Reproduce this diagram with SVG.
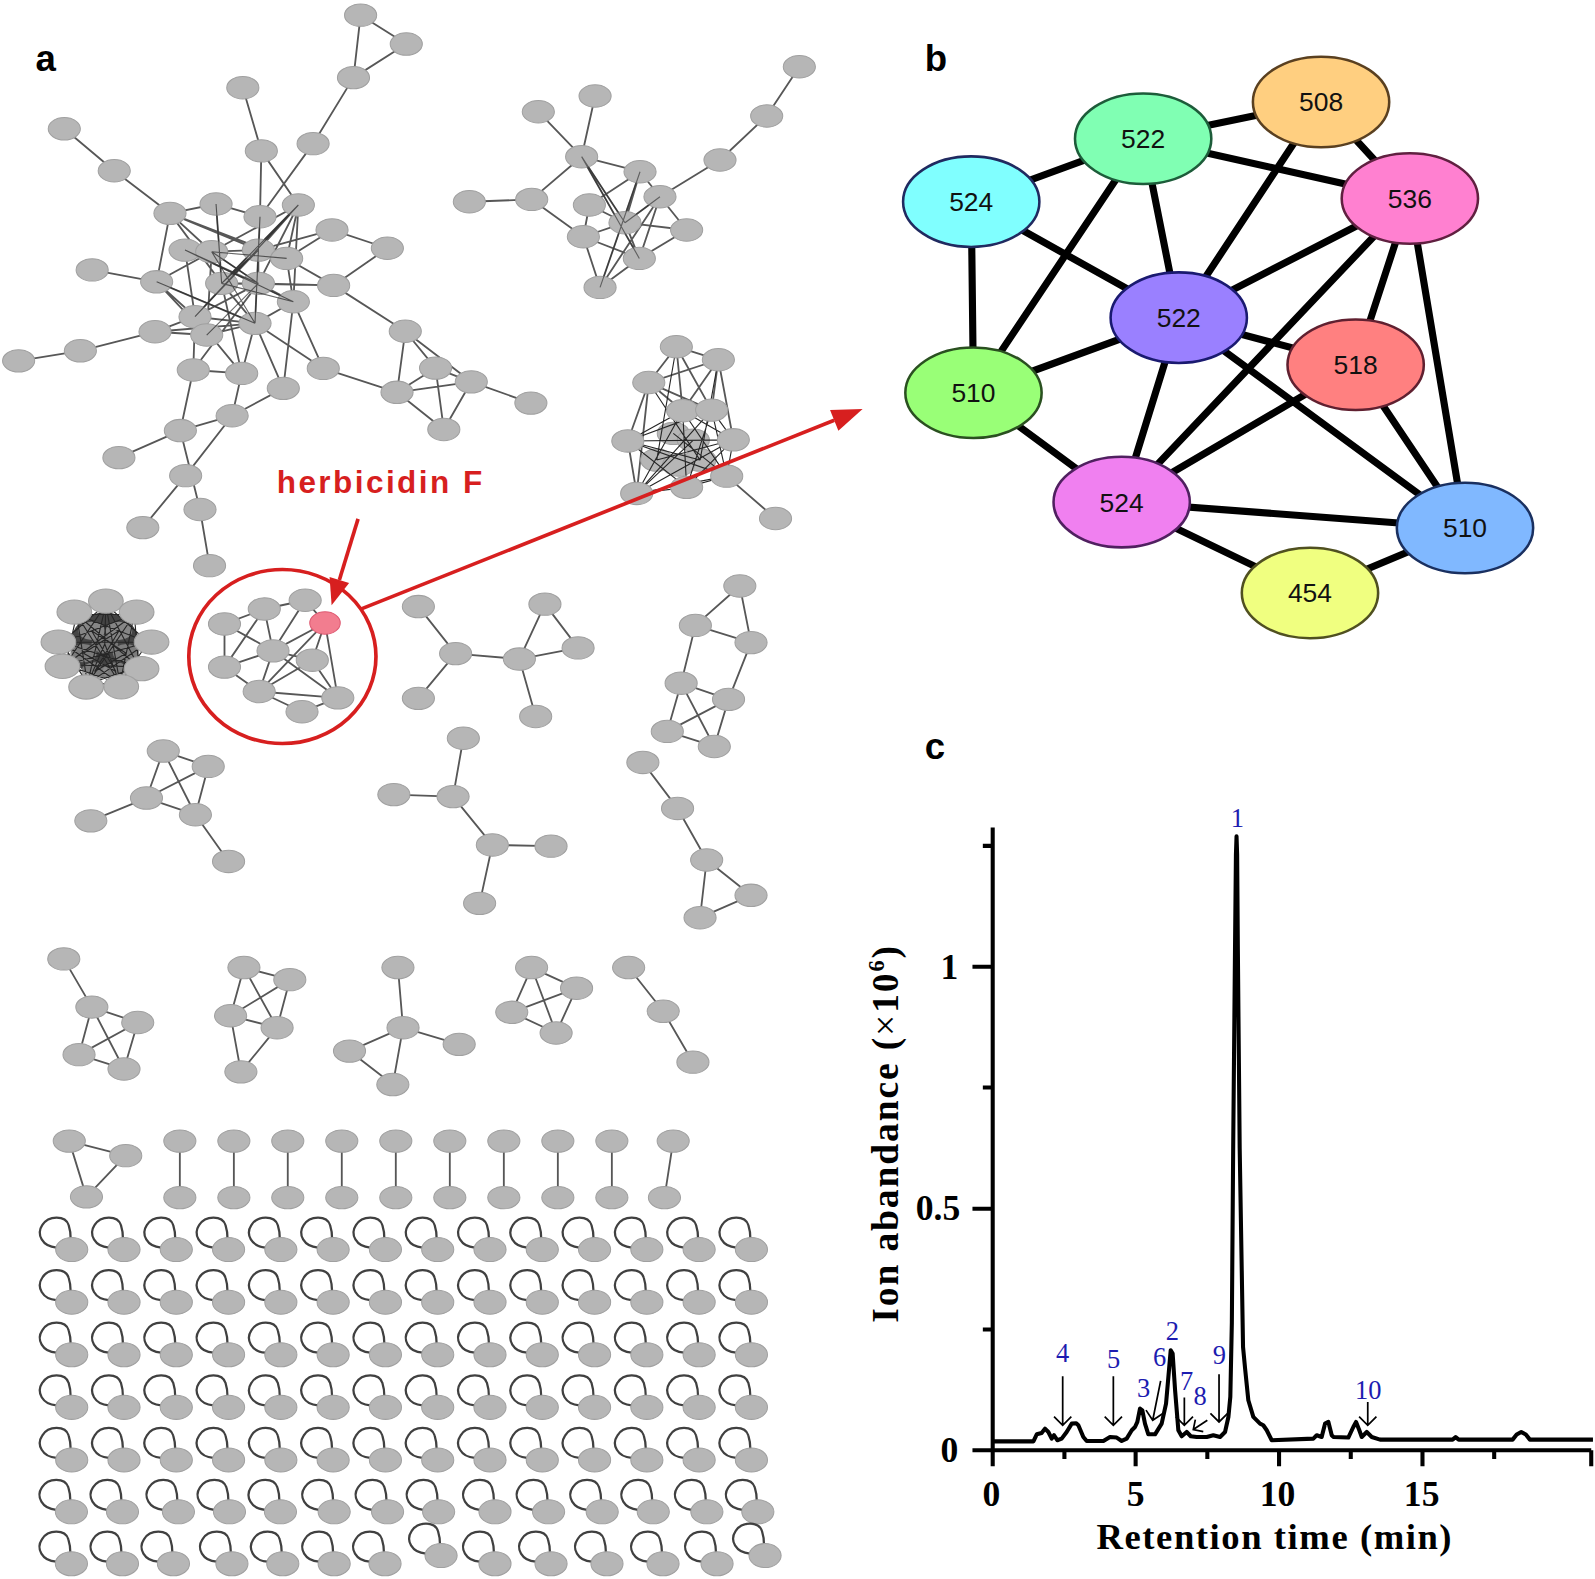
<svg xmlns="http://www.w3.org/2000/svg" xmlns:xlink="http://www.w3.org/1999/xlink" width="1595" height="1579" viewBox="0 0 1595 1579">
<style>
.e{fill:none;stroke:#575757;stroke-width:1.8}
.hm{fill:none;stroke:#262626;stroke-width:1.1}
.pl{font-family:"Liberation Sans",Arial,sans-serif;font-weight:bold;font-size:36px;fill:#000}
.be{fill:none;stroke:#000;stroke-width:7}
.bn ellipse{stroke-width:2.5}
.bn text{font-family:"Liberation Sans",Arial,sans-serif;font-size:26px;fill:#111;text-anchor:middle}
.red{fill:none;stroke:#d71f1f;stroke-width:3.6}
.ax{fill:none;stroke:#000;stroke-width:4}
.tk{font-family:"Liberation Serif","Times New Roman",serif;font-weight:bold;font-size:35px;fill:#000}
.pk{font-family:"Liberation Serif","Times New Roman",serif;font-size:26px;fill:#1c1cb0;text-anchor:middle}
.ar{fill:none;stroke:#000;stroke-width:1.7}
</style>
<defs>
<ellipse id="nd" rx="15.8" ry="11" fill="#b6b6b6" stroke="#a0a0a0" stroke-width="1"/>
<g id="lp"><path d="M-15,-2 C-29,-3 -35,-15 -29,-24 C-23,-34 -6,-34 -3,-24 C-1,-18 -1,-14 -1,-10" fill="none" stroke="#404040" stroke-width="2.2"/><ellipse rx="15.8" ry="11.8" fill="#b6b6b6" stroke="#a0a0a0" stroke-width="1"/></g>
</defs>
<rect width="1595" height="1579" fill="#fff"/>
<g transform="scale(1.01722,1.0174)">

<!-- panel labels -->
<text class="pl" x="35" y="70">a</text>
<text class="pl" x="909" y="70">b</text>
<text class="pl" x="909" y="746">c</text>

<!-- ============ PANEL A ============ -->
<g id="connectors-a">
<path class="e" d="M354.5,14.9 L399.4,43.3 M399.4,43.3 L347.5,76.3 M354.5,14.9 L347.5,76.3 M347.5,76.3 L307.8,141.2 M307.8,141.2 L255.6,213 M238.7,86.2 L256.9,148.3 M256.9,148.3 L255.6,213 M256.9,148.3 L293.3,201.5 M63.2,126.6 L112.3,167.8 M112.3,167.8 L167.1,209.7 M167.1,209.7 L212.4,200.5 M167.1,209.7 L154,277 M167.1,209.7 L208.1,247.4 M167.1,209.7 L217.9,278.5 M167.1,209.7 L254,245.8 M212.4,200.5 L217.9,278.5 M212.4,200.5 L255.6,213 M255.6,213 L250.7,317.8 M293.3,201.5 L208.1,247.4 M293.3,201.5 L254,245.8 M293.3,201.5 L217.9,278.5 M293.3,201.5 L281.8,254 M293.3,201.5 L191.7,311.3 M293.3,201.5 L288.4,296.6 M293.3,201.5 L254,278.5 M326.4,226 L380.8,244 M326.4,226 L281.8,254 M326.4,226 L254,245.8 M380.8,244 L328,280.5 M328,280.5 L398.4,325.6 M328,280.5 L281.8,254 M328,280.5 L254,278.5 M328,280.5 L217.9,278.5 M281.8,254 L288.4,296.6 M181.9,245.8 L208.1,247.4 M208.1,247.4 L254,245.8 M254,245.8 L281.8,254 M181.9,245.8 L191.7,311.3 M154,277 L90.6,265.3 M154,277 L208.1,247.4 M154,277 L191.7,311.3 M154,277 L250.7,317.8 M154,277 L203.2,329.3 M217.9,278.5 L254,278.5 M254,278.5 L288.4,296.6 M217.9,278.5 L250.7,317.8 M254,278.5 L191.7,311.3 M254,245.8 L217.9,278.5 M254,245.8 L254,278.5 M208.1,247.4 L254,278.5 M208.1,247.4 L203.2,329.3 M152.4,326.1 L79,344.8 M79,344.8 L18.3,354.7 M152.4,326.1 L191.7,311.3 M152.4,326.1 L203.2,329.3 M152.4,326.1 L250.7,317.8 M191.7,311.3 L250.7,317.8 M203.2,329.3 L250.7,317.8 M250.7,317.8 L288.4,296.6 M190,363.7 L191.7,311.3 M190,363.7 L237.6,367 M237.6,367 L250.7,317.8 M237.6,367 L191.7,311.3 M190,363.7 L254,278.5 M237.6,367 L217.9,278.5 M190,363.7 L177.3,423.2 M250.7,317.8 L278.5,381.7 M288.4,296.6 L278.5,381.7 M278.5,381.7 L228.2,408.6 M317.8,362.1 L390.3,385.6 M317.8,362.1 L288.4,296.6 M317.8,362.1 L250.7,317.8 M237.6,367 L228.2,408.6 M181.9,245.8 L288.4,296.6 M167.1,209.7 L281.8,254 M398.4,325.6 L428.2,361.8 M398.4,325.6 L463.3,375.3 M398.4,325.6 L390.3,385.6 M428.2,361.8 L463.3,375.3 M428.2,361.8 L390.3,385.6 M463.3,375.3 L390.3,385.6 M428.2,361.8 L436.3,422.1 M463.3,375.3 L436.3,422.1 M390.3,385.6 L436.3,422.1 M463.3,375.3 L521.9,396.2 M228.2,408.6 L177.3,423.2 M177.3,423.2 L116.9,449.8 M228.2,408.6 L182.5,467.5 M177.3,423.2 L196.6,500.8 M182.5,467.5 L140.4,518.6 M196.6,500.8 L206,556"/>
<path class="e" d="M785.8,65.6 L753.7,114 M753.7,114 L707.8,157.3 M707.8,157.3 L648.8,193.4 M585,94.4 L571.8,154 M529.2,109.8 L571.8,154 M571.8,154 L629.2,168.8 M571.8,154 L522.7,196 M522.7,196 L461.4,198.3 M522.7,196 L573.5,232.7 M571.8,154 L614.4,218.9 M571.8,154 L628.5,254 M629.2,168.8 L579.4,201.5 M629.2,168.8 L614.4,218.9 M629.2,168.8 L675,226.1 M629.2,168.8 L589.9,282.5 M648.8,193.4 L614.4,218.9 M648.8,193.4 L628.5,254 M648.8,193.4 L589.9,282.5 M579.4,201.5 L614.4,218.9 M579.4,201.5 L573.5,232.7 M614.4,218.9 L573.5,232.7 M614.4,218.9 L675,226.1 M614.4,218.9 L628.5,254 M573.5,232.7 L628.5,254 M573.5,232.7 L589.9,282.5 M628.5,254 L589.9,282.5 M675,226.1 L628.5,254"/>
<path class="e" d="M664.9,340.8 L706.2,353.6 M664.9,340.8 L637.8,376 M664.9,340.8 L671.1,403.7 M664.9,340.8 L699.6,403.1 M706.2,353.6 L637.8,376 M706.2,353.6 L671.1,403.7 M706.2,353.6 L699.6,403.1 M637.8,376 L671.1,403.7 M637.8,376 L699.6,403.1 M637.8,376 L617.2,433.4 M671.1,403.7 L699.6,403.1 M617.2,433.4 L625.9,485 M706.2,353.6 L720.9,432.3 M714.4,468 L762.4,509.6 M637.8,376 L625.9,485"/>
<path class="e" d="M259.8,598.6 L300,590 M259.8,598.6 L220.7,613.3 M259.8,598.6 L268.4,639.7 M259.8,598.6 L220.7,655.7 M300,590 L319.5,612.3 M300,590 L268.4,639.7 M220.7,613.3 L220.7,655.7 M220.7,613.3 L268.4,639.7 M319.5,612.3 L268.4,639.7 M319.5,612.3 L307,648.9 M319.5,612.3 L254.8,679.7 M319.5,612.3 L332.1,685.9 M268.4,639.7 L220.7,655.7 M268.4,639.7 L307,648.9 M268.4,639.7 L254.8,679.7 M307,648.9 L254.8,679.7 M307,648.9 L332.1,685.9 M220.7,655.7 L254.8,679.7 M254.8,679.7 L332.1,685.9 M254.8,679.7 L296.9,699.6 M332.1,685.9 L296.9,699.6 M268.4,639.7 L332.1,685.9"/>
<path class="e" d="M411.3,596.2 L447.9,642.4 M447.9,642.4 L411.3,686.4 M447.9,642.4 L510.6,647.8 M510.6,647.8 L535.7,593.8 M535.7,593.8 L568.3,636.8 M510.6,647.8 L568.3,636.8 M510.6,647.8 L526.6,704.2"/>
<path class="e" d="M727.3,576 L683.6,614.7 M727.3,576 L738.3,631.6 M683.6,614.7 L738.3,631.6 M683.6,614.7 L669.6,671.5 M738.3,631.6 L716.2,687.4 M669.6,671.5 L716.2,687.4 M669.6,671.5 L656,718.9 M669.6,671.5 L702.2,733.7 M716.2,687.4 L656,718.9 M716.2,687.4 L702.2,733.7 M656,718.9 L702.2,733.7"/>
<path class="e" d="M160.5,738.2 L204.7,753.3 M160.5,738.2 L144,784.4 M160.5,738.2 L192.1,800.8 M204.7,753.3 L144,784.4 M204.7,753.3 L192.1,800.8 M144,784.4 L192.1,800.8 M144,784.4 L89.3,806.8 M192.1,800.8 L224.7,846.7"/>
<path class="e" d="M455.5,725.6 L445.4,783 M445.4,783 L387.2,781 M445.4,783 L484,830.5 M484,830.5 L541.7,831.7 M484,830.5 L471.5,887.9"/>
<path class="e" d="M632,749.4 L666.1,794.6 M666.1,794.6 L694.7,845.3 M694.7,845.3 L738.3,880 M694.7,845.3 L688.2,902 M738.3,880 L688.2,902"/>
<path class="e" d="M62.7,942.5 L90.3,989.9 M90.3,989.9 L135.4,1005 M90.3,989.9 L77.7,1036.6 M90.3,989.9 L121.9,1050.7 M135.4,1005 L77.7,1036.6 M135.4,1005 L121.9,1050.7 M77.7,1036.6 L121.9,1050.7"/>
<path class="e" d="M239.8,951 L284.9,962.9 M239.8,951 L226.7,998.4 M239.8,951 L272.4,1010.1 M284.9,962.9 L226.7,998.4 M284.9,962.9 L272.4,1010.1 M226.7,998.4 L272.4,1010.1 M226.7,998.4 L236.8,1053.5 M272.4,1010.1 L236.8,1053.5"/>
<path class="e" d="M391.2,951 L396.2,1010.1 M396.2,1010.1 L451.4,1026.5 M396.2,1010.1 L343.6,1033.1 M396.2,1010.1 L386.2,1066 M343.6,1033.1 L386.2,1066"/>
<path class="e" d="M522.6,951 L566.8,971.3 M522.6,951 L503.1,995 M522.6,951 L546.7,1015.3 M566.8,971.3 L503.1,995 M566.8,971.3 L546.7,1015.3 M503.1,995 L546.7,1015.3"/>
<path class="e" d="M618,951 L652,994 M652,994 L681.2,1044"/>
<path class="e" d="M68.1,1121.6 L123.6,1135.9 M123.6,1135.9 L85,1176.4 M68.1,1121.6 L85,1176.4 M176.8,1121.6 V1177.1 M229.9,1121.6 V1177.1 M282.9,1121.6 V1177.1 M336,1121.6 V1177.1 M389.1,1121.6 V1177.1 M442.2,1121.6 V1177.1 M495.3,1121.6 V1177.1 M548.4,1121.6 V1177.1 M601.5,1121.6 V1177.1 M661.8,1121.6 L653.2,1177.1"/>
</g>

<g id="cluster-big">
<use href="#nd" x="354.5" y="14.9"/><use href="#nd" x="399.4" y="43.3"/><use href="#nd" x="347.5" y="76.3"/><use href="#nd" x="307.8" y="141.2"/><use href="#nd" x="238.7" y="86.2"/><use href="#nd" x="256.9" y="148.3"/><use href="#nd" x="63.2" y="126.6"/><use href="#nd" x="112.3" y="167.8"/><use href="#nd" x="167.1" y="209.7"/><use href="#nd" x="212.4" y="200.5"/><use href="#nd" x="255.6" y="213"/><use href="#nd" x="293.3" y="201.5"/><use href="#nd" x="326.4" y="226"/><use href="#nd" x="380.8" y="244"/><use href="#nd" x="328" y="280.5"/><use href="#nd" x="181.9" y="245.8"/><use href="#nd" x="208.1" y="247.4"/><use href="#nd" x="254" y="245.8"/><use href="#nd" x="281.8" y="254"/><use href="#nd" x="90.6" y="265.3"/><use href="#nd" x="154" y="277"/><use href="#nd" x="217.9" y="278.5"/><use href="#nd" x="254" y="278.5"/><use href="#nd" x="288.4" y="296.6"/><use href="#nd" x="152.4" y="326.1"/><use href="#nd" x="79" y="344.8"/><use href="#nd" x="18.3" y="354.7"/><use href="#nd" x="191.7" y="311.3"/><use href="#nd" x="203.2" y="329.3"/><use href="#nd" x="250.7" y="317.8"/><use href="#nd" x="190" y="363.7"/><use href="#nd" x="237.6" y="367"/><use href="#nd" x="278.5" y="381.7"/><use href="#nd" x="317.8" y="362.1"/><use href="#nd" x="398.4" y="325.6"/><use href="#nd" x="428.2" y="361.8"/><use href="#nd" x="463.3" y="375.3"/><use href="#nd" x="390.3" y="385.6"/><use href="#nd" x="436.3" y="422.1"/><use href="#nd" x="521.9" y="396.2"/><use href="#nd" x="228.2" y="408.6"/><use href="#nd" x="177.3" y="423.2"/><use href="#nd" x="116.9" y="449.8"/><use href="#nd" x="182.5" y="467.5"/><use href="#nd" x="196.6" y="500.8"/><use href="#nd" x="140.4" y="518.6"/><use href="#nd" x="206" y="556"/>
<path class="hm" d="M181.9,245.8 L254,278.5 M208.1,247.4 L281.8,254 M254,245.8 L217.9,278.5 M191.7,311.3 L254,245.8 M203.2,329.3 L254,278.5 M217.9,278.5 L288.4,296.6 M208.1,247.4 L250.7,317.8 M255.6,213 L250.7,317.8 M212.4,200.5 L217.9,278.5 M293.3,201.5 L191.7,311.3 M154,277 L250.7,317.8 M293.3,201.5 L217.9,278.5 M208.1,247.4 L254,278.5 M181.9,245.8 L288.4,296.6" opacity="0.7"/>
</g>

<g id="cluster-topright">
<use href="#nd" x="785.8" y="65.6"/><use href="#nd" x="753.7" y="114"/><use href="#nd" x="707.8" y="157.3"/><use href="#nd" x="648.8" y="193.4"/><use href="#nd" x="585" y="94.4"/><use href="#nd" x="529.2" y="109.8"/><use href="#nd" x="571.8" y="154"/><use href="#nd" x="629.2" y="168.8"/><use href="#nd" x="522.7" y="196"/><use href="#nd" x="461.4" y="198.3"/><use href="#nd" x="579.4" y="201.5"/><use href="#nd" x="614.4" y="218.9"/><use href="#nd" x="573.5" y="232.7"/><use href="#nd" x="675" y="226.1"/><use href="#nd" x="628.5" y="254"/><use href="#nd" x="589.9" y="282.5"/>
<path class="hm" d="M571.8,154 L614.4,218.9 M629.2,168.8 L589.9,282.5 M648.8,193.4 L614.4,218.9 M571.8,154 L628.5,254" opacity="0.6"/>
</g>

<g id="cluster-dense">
<use href="#nd" x="661.9" y="426"/><use href="#nd" x="681.6" y="432.6"/><use href="#nd" x="645.6" y="452.2"/><use href="#nd" x="688.2" y="452.2"/><use href="#nd" x="667" y="457"/>
<path class="hm" d="M671.1,403.7 L625.9,485 M671.1,403.7 L675,479 M671.1,403.7 L714.4,468 M699.6,403.1 L625.9,485 M699.6,403.1 L675,479 M699.6,403.1 L714.4,468 M671.1,403.7 L617.2,433.4 M699.6,403.1 L720.9,432.3 M671.1,403.7 L720.9,432.3 M699.6,403.1 L617.2,433.4 M617.2,433.4 L720.9,432.3 M617.2,433.4 L675,479 M617.2,433.4 L714.4,468 M720.9,432.3 L714.4,468 M720.9,432.3 L625.9,485 M720.9,432.3 L675,479 M625.9,485 L675,479 M675,479 L714.4,468 M625.9,485 L714.4,468 M664.9,340.8 L645.6,452.2 M706.2,353.6 L688.2,452.2 M637.8,376 L688.2,452.2 M661.9,426 L714.4,468 M681.6,432.6 L625.9,485 M645.6,452.2 L720.9,432.3 M688.2,452.2 L617.2,433.4" stroke="#333" stroke-width="1.3"/>
<use href="#nd" x="664.9" y="340.8"/><use href="#nd" x="706.2" y="353.6"/><use href="#nd" x="637.8" y="376"/><use href="#nd" x="671.1" y="403.7"/><use href="#nd" x="699.6" y="403.1"/><use href="#nd" x="617.2" y="433.4"/><use href="#nd" x="720.9" y="432.3"/><use href="#nd" x="625.9" y="485"/><use href="#nd" x="675" y="479"/><use href="#nd" x="714.4" y="468"/><use href="#nd" x="762.4" y="509.6"/>
</g>

<g id="cluster-hairball">
<ellipse cx="103" cy="634" rx="34" ry="32" fill="#444"/>
<ellipse cx="90" cy="620" rx="13" ry="9" fill="#9c9c9c" opacity="0.75"/><ellipse cx="117" cy="620" rx="13" ry="9" fill="#9c9c9c" opacity="0.75"/><ellipse cx="82" cy="642" rx="13" ry="9" fill="#8f8f8f" opacity="0.75"/><ellipse cx="124" cy="642" rx="13" ry="9" fill="#8f8f8f" opacity="0.75"/><ellipse cx="103" cy="633" rx="13" ry="9" fill="#8a8a8a" opacity="0.75"/><ellipse cx="93" cy="660" rx="13" ry="9" fill="#8f8f8f" opacity="0.75"/><ellipse cx="114" cy="660" rx="13" ry="9" fill="#8f8f8f" opacity="0.75"/>
<path class="hm" d="M104,594 L86,672.2 M104,594 L118,672 M104,594 L64.5,653.4 M104,594 L136.5,655.5 M75.3,604 L145.6,631.3 M75.3,604 L136.5,655.5 M75.3,604 L118,672 M132,604 L60.8,631.3 M132,604 L64.5,653.4 M132,604 L86,672.2 M60.8,631.3 L145.6,631.3 M60.8,631.3 L136.5,655.5 M60.8,631.3 L118,672 M145.6,631.3 L64.5,653.4 M145.6,631.3 L86,672.2 M64.5,653.4 L136.5,655.5 M75.3,604 L132,604 M86,672.2 L118,672 M104,594 L60.8,631.3 M104,594 L145.6,631.3 M75.3,604 L86,672.2 M132,604 L118,672 M64.5,653.4 L118,672 M136.5,655.5 L86,672.2 M75.3,604 L64.5,653.4 M132,604 L136.5,655.5 M60.8,631.3 L86,672.2 M145.6,631.3 L118,672 M90,620 L124,642 M117,620 L82,642 M82,642 L114,660 M124,642 L93,660 M90,620 L114,660 M117,620 L93,660 M103,633 L104,594 M103,633 L86,672.2 M103,633 L118,672"/>
<g transform="translate(103,634) scale(1.08) translate(-103,-634)">
<use href="#nd" x="104" y="594"/><use href="#nd" x="75.3" y="604"/><use href="#nd" x="132" y="604"/><use href="#nd" x="60.8" y="631.3"/><use href="#nd" x="145.6" y="631.3"/><use href="#nd" x="64.5" y="653.4"/><use href="#nd" x="136.5" y="655.5"/><use href="#nd" x="86" y="672.2"/><use href="#nd" x="118" y="672"/>
</g>
</g>

<g id="cluster-herbicidin">
<use href="#nd" x="259.8" y="598.6"/><use href="#nd" x="300" y="590"/><use href="#nd" x="220.7" y="613.3"/><use href="#nd" x="268.4" y="639.7"/><use href="#nd" x="307" y="648.9"/><use href="#nd" x="220.7" y="655.7"/><use href="#nd" x="254.8" y="679.7"/><use href="#nd" x="332.1" y="685.9"/><use href="#nd" x="296.9" y="699.6"/>
<ellipse id="herbicidin-F-node" cx="319.5" cy="612.3" rx="15" ry="11" fill="#f27d8f" stroke="#de5a72" stroke-width="1"/>
</g>

<g id="cluster-m"><use href="#nd" x="411.3" y="596.2"/><use href="#nd" x="447.9" y="642.4"/><use href="#nd" x="411.3" y="686.4"/><use href="#nd" x="510.6" y="647.8"/><use href="#nd" x="535.7" y="593.8"/><use href="#nd" x="568.3" y="636.8"/><use href="#nd" x="526.6" y="704.2"/></g>
<g id="cluster-n"><use href="#nd" x="727.3" y="576"/><use href="#nd" x="683.6" y="614.7"/><use href="#nd" x="738.3" y="631.6"/><use href="#nd" x="669.6" y="671.5"/><use href="#nd" x="716.2" y="687.4"/><use href="#nd" x="656" y="718.9"/><use href="#nd" x="702.2" y="733.7"/></g>
<g id="cluster-p"><use href="#nd" x="160.5" y="738.2"/><use href="#nd" x="204.7" y="753.3"/><use href="#nd" x="144" y="784.4"/><use href="#nd" x="192.1" y="800.8"/><use href="#nd" x="89.3" y="806.8"/><use href="#nd" x="224.7" y="846.7"/></g>
<g id="cluster-q"><use href="#nd" x="455.5" y="725.6"/><use href="#nd" x="445.4" y="783"/><use href="#nd" x="387.2" y="781"/><use href="#nd" x="484" y="830.5"/><use href="#nd" x="541.7" y="831.7"/><use href="#nd" x="471.5" y="887.9"/></g>
<g id="cluster-s"><use href="#nd" x="632" y="749.4"/><use href="#nd" x="666.1" y="794.6"/><use href="#nd" x="694.7" y="845.3"/><use href="#nd" x="738.3" y="880"/><use href="#nd" x="688.2" y="902"/></g>
<g id="cluster-t"><use href="#nd" x="62.7" y="942.5"/><use href="#nd" x="90.3" y="989.9"/><use href="#nd" x="135.4" y="1005"/><use href="#nd" x="77.7" y="1036.6"/><use href="#nd" x="121.9" y="1050.7"/></g>
<g id="cluster-u"><use href="#nd" x="239.8" y="951"/><use href="#nd" x="284.9" y="962.9"/><use href="#nd" x="226.7" y="998.4"/><use href="#nd" x="272.4" y="1010.1"/><use href="#nd" x="236.8" y="1053.5"/></g>
<g id="cluster-v"><use href="#nd" x="391.2" y="951"/><use href="#nd" x="396.2" y="1010.1"/><use href="#nd" x="451.4" y="1026.5"/><use href="#nd" x="343.6" y="1033.1"/><use href="#nd" x="386.2" y="1066"/></g>
<g id="cluster-w"><use href="#nd" x="522.6" y="951"/><use href="#nd" x="566.8" y="971.3"/><use href="#nd" x="503.1" y="995"/><use href="#nd" x="546.7" y="1015.3"/></g>
<g id="cluster-x"><use href="#nd" x="618" y="951"/><use href="#nd" x="652" y="994"/><use href="#nd" x="681.2" y="1044"/></g>
<g id="cluster-tri"><use href="#nd" x="68.1" y="1121.6"/><use href="#nd" x="123.6" y="1135.9"/><use href="#nd" x="85" y="1176.4"/></g>
<g id="pairs">
<use href="#nd" x="176.8" y="1121.6"/><use href="#nd" x="176.8" y="1177.1"/><use href="#nd" x="229.9" y="1121.6"/><use href="#nd" x="229.9" y="1177.1"/><use href="#nd" x="282.9" y="1121.6"/><use href="#nd" x="282.9" y="1177.1"/><use href="#nd" x="336" y="1121.6"/><use href="#nd" x="336" y="1177.1"/><use href="#nd" x="389.1" y="1121.6"/><use href="#nd" x="389.1" y="1177.1"/><use href="#nd" x="442.2" y="1121.6"/><use href="#nd" x="442.2" y="1177.1"/><use href="#nd" x="495.3" y="1121.6"/><use href="#nd" x="495.3" y="1177.1"/><use href="#nd" x="548.4" y="1121.6"/><use href="#nd" x="548.4" y="1177.1"/><use href="#nd" x="601.5" y="1121.6"/><use href="#nd" x="601.5" y="1177.1"/><use href="#nd" x="661.8" y="1121.6"/><use href="#nd" x="653.2" y="1177.1"/>
</g>

<g id="self-loops">
<g transform="translate(0,1228.2)"><use href="#lp" x="70.5"/><use href="#lp" x="121.9"/><use href="#lp" x="173.3"/><use href="#lp" x="224.7"/><use href="#lp" x="276.1"/><use href="#lp" x="327.5"/><use href="#lp" x="378.9"/><use href="#lp" x="430.3"/><use href="#lp" x="481.7"/><use href="#lp" x="533.1"/><use href="#lp" x="584.5"/><use href="#lp" x="635.9"/><use href="#lp" x="687.3"/><use href="#lp" x="738.7"/></g>
<g transform="translate(0,1279.9)"><use href="#lp" x="70.5"/><use href="#lp" x="121.9"/><use href="#lp" x="173.3"/><use href="#lp" x="224.7"/><use href="#lp" x="276.1"/><use href="#lp" x="327.5"/><use href="#lp" x="378.9"/><use href="#lp" x="430.3"/><use href="#lp" x="481.7"/><use href="#lp" x="533.1"/><use href="#lp" x="584.5"/><use href="#lp" x="635.9"/><use href="#lp" x="687.3"/><use href="#lp" x="738.7"/></g>
<g transform="translate(0,1331.6)"><use href="#lp" x="70.5"/><use href="#lp" x="121.9"/><use href="#lp" x="173.3"/><use href="#lp" x="224.7"/><use href="#lp" x="276.1"/><use href="#lp" x="327.5"/><use href="#lp" x="378.9"/><use href="#lp" x="430.3"/><use href="#lp" x="481.7"/><use href="#lp" x="533.1"/><use href="#lp" x="584.5"/><use href="#lp" x="635.9"/><use href="#lp" x="687.3"/><use href="#lp" x="738.7"/></g>
<g transform="translate(0,1383.3)"><use href="#lp" x="70.5"/><use href="#lp" x="121.9"/><use href="#lp" x="173.3"/><use href="#lp" x="224.7"/><use href="#lp" x="276.1"/><use href="#lp" x="327.5"/><use href="#lp" x="378.9"/><use href="#lp" x="430.3"/><use href="#lp" x="481.7"/><use href="#lp" x="533.1"/><use href="#lp" x="584.5"/><use href="#lp" x="635.9"/><use href="#lp" x="687.3"/><use href="#lp" x="738.7"/></g>
<g transform="translate(0,1435)"><use href="#lp" x="70.5"/><use href="#lp" x="121.9"/><use href="#lp" x="173.3"/><use href="#lp" x="224.7"/><use href="#lp" x="276.1"/><use href="#lp" x="327.5"/><use href="#lp" x="378.9"/><use href="#lp" x="430.3"/><use href="#lp" x="481.7"/><use href="#lp" x="533.1"/><use href="#lp" x="584.5"/><use href="#lp" x="635.9"/><use href="#lp" x="687.3"/><use href="#lp" x="738.7"/></g>
<g transform="translate(0,1486)"><use href="#lp" x="70.2"/><use href="#lp" x="120.4"/><use href="#lp" x="175.4"/><use href="#lp" x="225.6"/><use href="#lp" x="275.7"/><use href="#lp" x="328.5"/><use href="#lp" x="381"/><use href="#lp" x="431.2"/><use href="#lp" x="486.6"/><use href="#lp" x="539.3"/><use href="#lp" x="592"/><use href="#lp" x="642.2"/><use href="#lp" x="694.9"/><use href="#lp" x="745"/></g>
<g transform="translate(0,1537)"><use href="#lp" x="70.2"/><use href="#lp" x="120.4"/><use href="#lp" x="170.5"/><use href="#lp" x="228"/><use href="#lp" x="278"/><use href="#lp" x="328.5"/><use href="#lp" x="378.5"/><use href="#lp" x="433.6" y="-8"/><use href="#lp" x="486.6"/><use href="#lp" x="541.7"/><use href="#lp" x="596.7"/><use href="#lp" x="651.8"/><use href="#lp" x="704.9"/><use href="#lp" x="752.1" y="-8"/></g>
</g>

<!-- red annotation -->
<g id="annotation">
<text x="272" y="485" textLength="202" lengthAdjust="spacing" style="font-family:'Liberation Sans',Arial,sans-serif;font-weight:bold;font-size:31px;fill:#d71f1f">herbicidin F</text>
<ellipse class="red" cx="277.6" cy="645.3" rx="92" ry="85.5"/>
<line class="red" x1="352" y1="510" x2="333.6" y2="570"/>
<polygon points="326,595 343.2,573 324,567.2" fill="#d71f1f"/>
<line class="red" x1="354" y1="599" x2="820.1" y2="413.1"/>
<polygon points="848,402 824.2,423.3 816,402.9" fill="#d71f1f"/>
</g>

<!-- ============ PANEL B ============ -->
<g id="connectors-b">
<path class="be" d="M1123.8,136.3 L1298.7,100.2 M1123.8,136.3 L954.8,198.2 M1123.8,136.3 L1386,195.1 M1123.8,136.3 L1158.8,312.2 M1123.8,136.3 L957,386 M1298.7,100.2 L1386,195.1 M1298.7,100.2 L1158.8,312.2 M954.8,198.2 L957,386 M954.8,198.2 L1158.8,312.2 M1386,195.1 L1158.8,312.2 M1386,195.1 L1332.7,358.5 M1386,195.1 L1102.7,493.5 M1386,195.1 L1440.2,519 M1158.8,312.2 L957,386 M1158.8,312.2 L1332.7,358.5 M1158.8,312.2 L1102.7,493.5 M1158.8,312.2 L1440.2,519 M957,386 L1102.7,493.5 M1332.7,358.5 L1102.7,493.5 M1332.7,358.5 L1440.2,519 M1102.7,493.5 L1440.2,519 M1102.7,493.5 L1287.8,582.8 M1287.8,582.8 L1440.2,519"/>
</g>
<g id="b-508" class="bn"><ellipse cx="1298.7" cy="100.2" rx="67" ry="44.5" fill="#ffcf80" stroke="#5a4020"/><text x="1298.7" y="109.5">508</text></g>
<g id="b-522a" class="bn"><ellipse cx="1123.8" cy="136.3" rx="67" ry="44.5" fill="#80ffb3" stroke="#1d5c3a"/><text x="1123.8" y="145.6">522</text></g>
<g id="b-524a" class="bn"><ellipse cx="954.8" cy="198.2" rx="67" ry="44.5" fill="#80ffff" stroke="#202a60"/><text x="954.8" y="207.5">524</text></g>
<g id="b-536" class="bn"><ellipse cx="1386" cy="195.1" rx="67" ry="44.5" fill="#ff80d0" stroke="#602040"/><text x="1386" y="204.4">536</text></g>
<g id="b-522b" class="bn"><ellipse cx="1158.8" cy="312.2" rx="67" ry="44.5" fill="#9a80ff" stroke="#1a1a70"/><text x="1158.8" y="321.5">522</text></g>
<g id="b-518" class="bn"><ellipse cx="1332.7" cy="358.5" rx="67" ry="44.5" fill="#ff8080" stroke="#602030"/><text x="1332.7" y="367.8">518</text></g>
<g id="b-510a" class="bn"><ellipse cx="957" cy="386" rx="67" ry="44.5" fill="#99ff77" stroke="#2a5020"/><text x="957" y="395.3">510</text></g>
<g id="b-524b" class="bn"><ellipse cx="1102.7" cy="493.5" rx="67" ry="44.5" fill="#f080f0" stroke="#502060"/><text x="1102.7" y="502.8">524</text></g>
<g id="b-510b" class="bn"><ellipse cx="1440.2" cy="519" rx="67" ry="44.5" fill="#80b8ff" stroke="#1a3060"/><text x="1440.2" y="528.3">510</text></g>
<g id="b-454" class="bn"><ellipse cx="1287.8" cy="582.8" rx="67" ry="44.5" fill="#f0ff80" stroke="#505020"/><text x="1287.8" y="592.1">454</text></g>

<!-- ============ PANEL C ============ -->
<g id="chart-c">
<path class="ax" d="M975.9,813.3 V1441.2 M956,1425.5 H1564.3 M956,950.2 H975.9 M956,1188 H975.9 M966.2,831.4 H975.9 M966.2,1068.9 H975.9 M966.2,1306.8 H975.9 M1116.4,1425.5 V1441.2 M1257.4,1425.5 V1441.2 M1398.4,1425.5 V1441.2 M1046.4,1425.5 V1434 M1186.9,1425.5 V1434 M1327.9,1425.5 V1434 M1468.9,1425.5 V1434 M1564.3,1425.5 V1441.2"/>
<text class="tk" x="942" y="962.5" text-anchor="end">1</text>
<text class="tk" x="944" y="1199.4" text-anchor="end">0.5</text>
<text class="tk" x="942" y="1437" text-anchor="end">0</text>
<text class="tk" x="974.5" y="1480" text-anchor="middle">0</text>
<text class="tk" x="1116.4" y="1480" text-anchor="middle">5</text>
<text class="tk" x="1256" y="1480" text-anchor="middle">10</text>
<text class="tk" x="1397.6" y="1480" text-anchor="middle">15</text>
<text class="tk" x="1078" y="1523" textLength="349" lengthAdjust="spacing" style="font-size:36px">Retention time (min)</text>
<text class="tk" transform="translate(883,1114) rotate(-90)" text-anchor="middle" style="font-size:37px;letter-spacing:1.8px">Ion abandance (<tspan style="font-weight:normal">×</tspan>10<tspan dy="-14" style="font-size:22px">6</tspan><tspan dy="14">)</tspan></text>
<polyline fill="none" stroke="#000" stroke-width="4" stroke-linejoin="round" points="975.9,1416.7 1015.9,1416.7 1019.2,1409.8 1024,1408.5 1027.3,1404.2 1030.6,1407.5 1033.9,1414 1036.2,1410.7 1039.4,1415.6 1043.7,1414 1048.6,1407.5 1053.6,1399.3 1058,1399 1060.1,1400.9 1065,1412.4 1068.3,1416.3 1084.7,1416.3 1091.2,1412.4 1097.8,1413 1102.7,1416.3 1107.6,1414 1112.6,1405.8 1115.8,1402.6 1118.1,1397.6 1120.7,1384.5 1123,1386.2 1125.6,1399.3 1128.9,1409.8 1135.5,1409.8 1142,1399.3 1146.3,1379.6 1148.6,1353.4 1150.9,1327.2 1152.8,1330.4 1155.2,1366.5 1158.4,1405.8 1161.7,1411.7 1166.6,1407.5 1170.6,1411.7 1176.4,1412.4 1186.3,1412.4 1192.8,1410.7 1199.4,1412.4 1204.3,1407.5 1207.6,1392.7 1209.5,1372.8 1211,1300 1212.3,1128.5 1214.1,933.1 1215,840 1215.6,822 1216.2,840 1216.9,933.1 1218.7,1128.5 1222,1323.9 1224,1345 1227.2,1376.3 1232.1,1392.7 1238.7,1399.3 1241.9,1400.9 1245.3,1405.8 1250.2,1415.6 1291.1,1414 1294.4,1410.7 1299.3,1412.4 1302.6,1399.3 1305.9,1397.6 1309.2,1410.7 1310.8,1412.4 1325.5,1413 1330.4,1402.6 1333.1,1397.6 1336.3,1405.8 1338.7,1412.4 1343.6,1407.5 1348.5,1412.4 1356.7,1415 1428,1415 1431,1412.5 1434,1415 1487,1415 1491,1410 1495.5,1407.5 1500,1410 1504,1415 1566,1415"/>
<text class="pk" x="1216.4" y="813">1</text>
<text class="pk" x="1152.5" y="1317.4">2</text>
<text class="pk" x="1124.3" y="1373">3</text>
<text class="pk" x="1044.7" y="1338.7">4</text>
<text class="pk" x="1094.8" y="1344.2">5</text>
<text class="pk" x="1140" y="1342.9">6</text>
<text class="pk" x="1166.6" y="1365.8">7</text>
<text class="pk" x="1179.7" y="1381.3">8</text>
<text class="pk" x="1198.7" y="1341">9</text>
<text class="pk" x="1345" y="1375">10</text>
<path class="ar" d="M1044.7,1352.7 V1400.9 M1036.2,1392.4 L1044.7,1400.9 L1053.2,1392.4 M1094.5,1352.7 V1400.9 M1086,1392.4 L1094.5,1400.9 L1103,1392.4 M1141,1357.3 L1133.2,1396 M1143.2,1389.4 L1133.2,1396 L1126.6,1386 M1164.3,1373.7 V1400.9 M1155.8,1392.4 L1164.3,1400.9 L1172.8,1392.4 M1186.9,1396 L1173.1,1405.1 M1182.9,1407.1 L1173.1,1405.1 L1175.1,1395.3 M1198.4,1350.8 V1397.6 M1189.9,1389.1 L1198.4,1397.6 L1206.9,1389.1 M1344.6,1378 V1400.9 M1336.1,1392.4 L1344.6,1400.9 L1353.1,1392.4"/>
</g>
</g>
</svg>
